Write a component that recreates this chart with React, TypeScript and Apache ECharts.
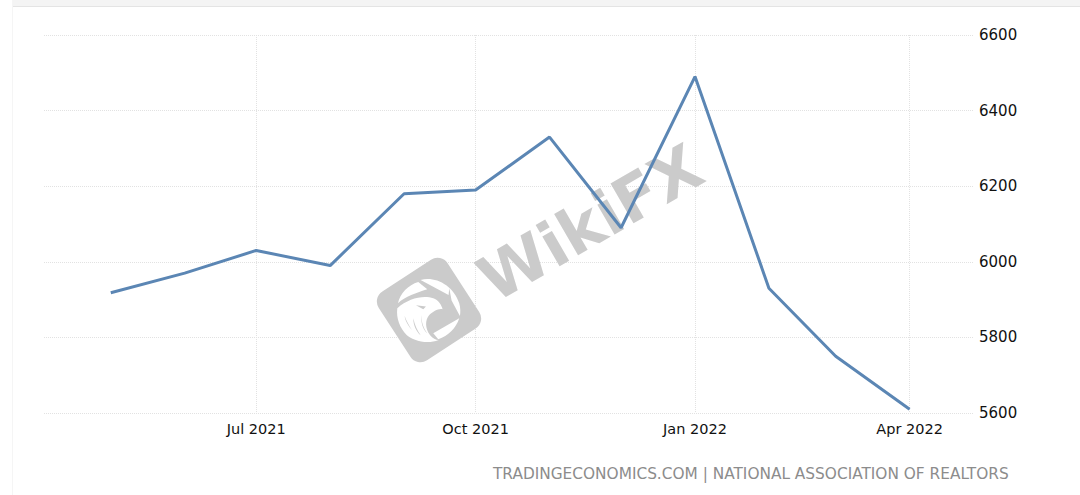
import React, { useEffect, useRef } from "react";
import * as echarts from "echarts";

const dates = [
  [2021, 4], [2021, 5], [2021, 6], [2021, 7], [2021, 8], [2021, 9],
  [2021, 10], [2021, 11], [2022, 0], [2022, 1], [2022, 2], [2022, 3],
];
const values = [5918, 5970, 6030, 5990, 6180, 6190, 6330, 6090, 6490, 5930, 5750, 5610];
const quarterTicks = [[2021, 6], [2021, 9], [2022, 0], [2022, 3]];
const monthNames = ["Jan", "Feb", "Mar", "Apr", "May", "Jun", "Jul", "Aug", "Sep", "Oct", "Nov", "Dec"];
const sourceText = "TRADINGECONOMICS.COM | NATIONAL ASSOCIATION OF REALTORS";
const watermarkText = "WikiFX";

const ts = (d: number[], day = 1) => new Date(d[0], d[1], day).getTime();

const eagle =
  "M84 160 C90 130 115 105 145 96 L172 118 C140 128 105 140 84 160 Z " +
  "M152 90 C195 78 250 105 268 160 C272 175 272 188 270 198 L245 152 L238 115 L236 135 Z " +
  "M268 205 C258 235 235 258 205 268 L190 250 Z " +
  "M82 175 C115 145 160 135 190 145 C205 150 215 165 218 178 C205 175 190 185 178 195 C165 210 165 235 180 255 C188 265 198 270 206 270 C170 285 125 270 110 255 C90 235 78 205 82 175 Z";
const eagleCuts =
  "M138 166 L168 170 L160 178 Z " +
  "M104 198 C110 215 118 228 126 240 C116 228 106 215 104 198 Z " +
  "M130 205 C134 225 142 242 152 256 C138 244 130 225 130 205 Z " +
  "M155 195 C154 215 160 235 172 250 C158 238 152 215 155 195 Z";

echarts.graphic.registerShape("wfxEagle", echarts.graphic.extendPath(eagle, {}) as any);
echarts.graphic.registerShape("wfxEagleCuts", echarts.graphic.extendPath(eagleCuts, {}) as any);

export default function App() {
  const ref = useRef<HTMLDivElement>(null);
  useEffect(() => {
    document.body.style.margin = "0";
    document.body.style.background = "#fff";
    const chart = echarts.init(ref.current!, undefined, { renderer: "svg" });
    const customTicks = quarterTicks.map((d) => ts(d));
    chart.setOption({
      animation: false,
      backgroundColor: "#ffffff",
      textStyle: { fontFamily: "DejaVu Sans" },
      grid: { left: 44, right: 106, top: 35, bottom: 82 },
      title: {
        text: sourceText,
        left: 493,
        top: 466,
        padding: 0,
        textStyle: { color: "#8c8c8c", fontSize: 15.35, fontWeight: "normal", fontFamily: "DejaVu Sans" },
      },
      xAxis: {
        type: "value",
        min: ts([2021, 3], 3),
        max: ts([2022, 3], 28),
        axisLine: { show: false },
        axisTick: { show: false, customValues: customTicks },
        axisLabel: {
          customValues: customTicks,
          color: "#111111",
          fontSize: 14.5,
          margin: 8,
          hideOverlap: false,
          formatter: (v: number) => {
            const d = new Date(v);
            return `${monthNames[d.getMonth()]} ${d.getFullYear()}`;
          },
        },
        splitLine: { show: true, lineStyle: { color: "#e2e2e2", type: "dotted", width: 1 } },
      },
      yAxis: {
        type: "value",
        position: "right",
        min: 5600,
        max: 6600,
        interval: 200,
        axisLine: { show: false },
        axisTick: { show: false },
        axisLabel: { color: "#111111", fontSize: 15, margin: 5, formatter: (v: number) => String(v) },
        splitLine: { show: true, lineStyle: { color: "#e2e2e2", type: "dotted", width: 1 } },
      },
      series: [
        {
          type: "line",
          data: dates.map((d, i) => [ts(d), values[i]]),
          symbol: "none",
          lineStyle: { color: "#5b86b4", width: 3 },
          clip: false,
          z: 5,
        },
      ],
      graphic: [
        { type: "rect", shape: { x: 13, y: 0, width: 1067, height: 6 }, style: { fill: "#f4f4f4" }, z: 0 },
        { type: "rect", shape: { x: 13, y: 6, width: 1067, height: 1 }, style: { fill: "#e4e4e4" }, z: 0 },
        { type: "rect", shape: { x: 12, y: 0, width: 1, height: 495 }, style: { fill: "#f5f5f5" }, z: 0 },
        {
          type: "rect",
          x: 429,
          y: 310,
          rotation: (33 * Math.PI) / 180,
          shape: { x: -41, y: -41, width: 82, height: 82, r: 12 },
          style: { fill: "#cbcbcb" },
          z: 1,
        },
        { type: "wfxEagle", x: 370, y: 250, scaleX: 1 / 3, scaleY: 1 / 3, style: { fill: "#ffffff" }, z: 2 },
        { type: "wfxEagleCuts", x: 370, y: 250, scaleX: 1 / 3, scaleY: 1 / 3, style: { fill: "#cbcbcb" }, z: 3 },
        {
          type: "text",
          x: 484,
          y: 285,
          rotation: (30 * Math.PI) / 180,
          z: 1,
          style: {
            text: watermarkText,
            fill: "#cbcbcb",
            font: "bold 63px 'DejaVu Sans'",
            textAlign: "left",
            textVerticalAlign: "middle",
          },
        },
      ],
    });
    return () => chart.dispose();
  }, []);
  return <div ref={ref} style={{ width: 1080, height: 495 }} />;
}
